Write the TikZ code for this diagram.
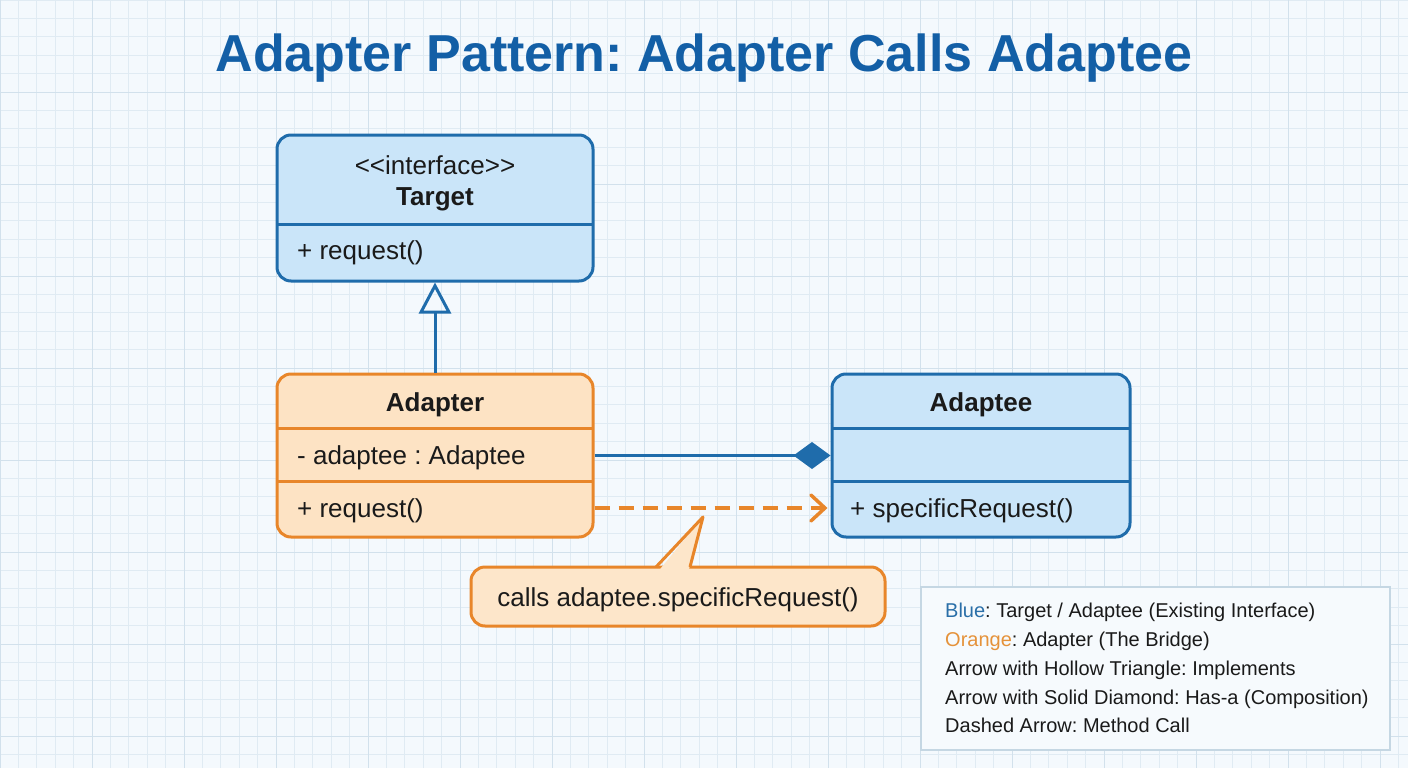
\documentclass[tikz,border=0pt]{standalone}
\usepackage{fontspec}
\setmainfont{Liberation Sans}
\usetikzlibrary{arrows.meta}
\frenchspacing
\definecolor{bgc}{HTML}{F4F9FD}
\definecolor{gridminor}{HTML}{E0EBF3}
\definecolor{gridmajor}{HTML}{D2E1EC}
\definecolor{titlec}{HTML}{135FA6}
\definecolor{blueline}{HTML}{1F6CAB}
\definecolor{bluefill}{HTML}{CAE5F9}
\definecolor{orangeline}{HTML}{E8862A}
\definecolor{orangefill}{HTML}{FDE3C4}
\definecolor{calloutfill}{HTML}{FDE6CA}
\definecolor{legendfill}{HTML}{F6FAFD}
\definecolor{legendline}{HTML}{C5D7E3}
\definecolor{txtc}{HTML}{1A1A1A}
\definecolor{legblue}{HTML}{2A6FA8}
\definecolor{legorange}{HTML}{E5923A}
\tikzset{
  classbox/.style={rectangle, rounded corners=14pt, line width=3pt, inner sep=0pt},
  bluebox/.style={classbox, draw=blueline, fill=bluefill},
  orangebox/.style={classbox, draw=orangeline, fill=orangefill},
  divblue/.style={draw=blueline, line width=3pt},
  divorange/.style={draw=orangeline, line width=3pt},
  boxtxt/.style={font=\fontsize{26}{30}\selectfont, text=txtc, inner sep=0pt},
  boxbold/.style={boxtxt, font=\fontsize{26}{30}\selectfont\bfseries},
  legtxt/.style={font=\fontsize{20}{24}\selectfont, text=txtc, inner sep=0pt, anchor=base west},
}
\begin{document}
\begin{tikzpicture}[x=1pt,y=-1pt]
\useasboundingbox (0,0) rectangle (1408,768);
\fill[bgc] (0,0) rectangle (1408,768);
% grid
\foreach \i in {0,...,76} { \draw[gridminor, line width=0.8pt] (\i*18.4,0) -- (\i*18.4,768); }
\foreach \j in {0,...,41} { \draw[gridminor, line width=0.8pt] (0,\j*18.4) -- (1408,\j*18.4); }
\foreach \i in {0,...,15} { \draw[gridmajor, line width=1pt] (\i*92,0) -- (\i*92,768); }
\foreach \j in {0,...,8} { \draw[gridmajor, line width=1pt] (0,\j*92) -- (1408,\j*92); }

% title
\node[anchor=base, inner sep=0pt, text=titlec, font=\fontsize{52}{60}\selectfont\bfseries] (title) at (704,72) {Adapter Pattern: Adapter Calls Adaptee};

% Target
\node[bluebox, minimum width=316pt, minimum height=146pt] (target) at (435,208) {};
\draw[divblue] (277,224) -- (593,224);
\node[boxtxt, anchor=base] (tstereo) at (435,174) {<\kern0pt<interface>\kern0pt>};
\node[boxbold, anchor=base] (tname) at (435,205) {Target};
\node[boxtxt, anchor=base west] (treq) at (297,259) {+ request()};

% Adapter
\node[orangebox, minimum width=316pt, minimum height=163pt] (adapter) at (435,455.5) {};
\draw[divorange] (277,428) -- (593,428);
\draw[divorange] (277,481) -- (593,481);
\node[boxbold, anchor=base] (aname) at (435,411) {Adapter};
\node[boxtxt, anchor=base west] (afield) at (297,464) {- adaptee : Adaptee};
\node[boxtxt, anchor=base west] (areq) at (297,517) {+ request()};

% Adaptee
\node[bluebox, minimum width=298pt, minimum height=163pt] (adaptee) at (981,455.5) {};
\draw[divblue] (832,428) -- (1130,428);
\draw[divblue] (832,481) -- (1130,481);
\node[boxbold, anchor=base] (ename) at (981,411) {Adaptee};
\node[boxtxt, anchor=base west] (ereq) at (850,517) {+ specificRequest()};

% connectors
\draw[blueline, line width=3pt, -{Triangle[open, length=31pt, width=32pt, line width=3pt]}] (adapter.north) -- (target.south);
\draw[blueline, line width=3pt, -{Kite[length=37pt, width=27pt, inset=18.5pt]}] (adapter.east) -- (adaptee.west);
\coordinate (dsrc) at ([yshift=-52.5pt]adapter.east);
\coordinate (ddst) at ([yshift=-52.5pt,xshift=-3pt]adaptee.west);
\draw[orangeline, line width=3.5pt, dash pattern=on 15pt off 9pt, -{Straight Barb[length=14pt, width=26pt, line width=3.5pt, line cap=round]}] (dsrc) -- (ddst);

% callout
\node[rectangle, rounded corners=14pt, line width=3pt, draw=orangeline, fill=calloutfill, minimum width=414pt, minimum height=59pt, inner sep=0pt] (callout) at (678,596.5) {};
\coordinate (ptip) at (703,517);
\fill[calloutfill] (658.5,571) -- (ptip) -- (688.5,571) -- cycle;
\draw[orangeline, line width=3pt, line join=round] (656,567) -- (ptip) -- (690,567);
\node[boxtxt, anchor=base] (ctext) at (678,606) {calls adaptee.specificRequest()};

% legend
\node[rectangle, draw=legendline, fill=legendfill, line width=1.2pt, minimum width=469pt, minimum height=163pt] (legend) at (1155.5,668.5) {};
\node[legtxt] (l1) at (945,617) {\textcolor{legblue}{Blue}: Target / Adaptee (Existing Interface)};
\node[legtxt] (l2) at (945,646) {\textcolor{legorange}{Orange}: Adapter (The Bridge)};
\node[legtxt] (l3) at (945,675) {Arrow with Hollow Triangle: Implements};
\node[legtxt] (l4) at (945,704) {Arrow with Solid Diamond: Has-a (Composition)};
\node[legtxt] (l5) at (945,732) {Dashed Arrow: Method Call};
\end{tikzpicture}
\end{document}
